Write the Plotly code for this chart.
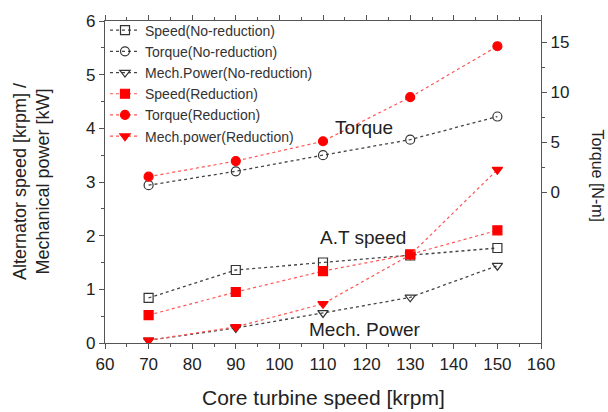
import plotly.graph_objects as go

x = [70, 90, 110, 130, 150]
speed_nored = [0.84, 1.36, 1.50, 1.63, 1.77]
torque_nored = [0.70, 2.09, 3.70, 5.25, 7.56]
power_nored = [0.05, 0.28, 0.56, 0.85, 1.44]
speed_red = [0.52, 0.95, 1.34, 1.65, 2.10]
torque_red = [1.55, 3.11, 5.09, 9.49, 14.58]
power_red = [0.05, 0.30, 0.73, 1.64, 3.23]

FONT = "Arial, Liberation Sans, sans-serif"
BLK = "#333333"
RED = "#ff0000"
TXT = "#222222"

fig = go.Figure()

def add(name, y, color, symbol, yaxis, lw, dash, lcolor):
    fig.add_trace(go.Scatter(
        x=x, y=y, name=name, yaxis=yaxis, mode="lines+markers",
        line=dict(color=lcolor, width=lw, dash=dash),
        marker=dict(symbol=symbol, size=9, color=color,
                    line=dict(color=color, width=1.2)),
    ))

add("Speed(No-reduction)", speed_nored, BLK, "square-open", "y", 1.3, "dot", "#444444")
add("Torque(No-reduction)", torque_nored, BLK, "circle-open", "y2", 1.3, "dot", "#444444")
add("Mech.Power(No-reduction)", power_nored, BLK, "triangle-down-open", "y", 1.3, "dot", "#444444")
add("Speed(Reduction)", speed_red, RED, "square", "y", 1.2, "dot", "#ff5555")
add("Torque(Reduction)", torque_red, RED, "circle", "y2", 1.2, "dot", "#ff5555")
add("Mech.power(Reduction)", power_red, RED, "triangle-down", "y", 1.2, "dot", "#ff5555")

AX = "#555555"
fig.update_layout(
    width=608, height=412,
    margin=dict(l=105, r=67, t=21, b=69),
    paper_bgcolor="white", plot_bgcolor="white",
    font=dict(family=FONT, size=17, color=TXT),
    showlegend=True,
    legend=dict(x=0.0, y=1.02, xanchor="left", yanchor="top",
                bgcolor="rgba(0,0,0,0)", borderwidth=0,
                font=dict(size=14, color="#333333"),
                tracegroupgap=0, itemwidth=30),
    xaxis=dict(range=[60, 160], tickvals=list(range(60, 161, 10)),
               showgrid=False, zeroline=False, showline=True,
               linecolor=AX, linewidth=1.2, mirror="ticks",
               ticks="outside", ticklen=5, tickcolor=AX,
               minor=dict(dtick=5, ticks="outside", ticklen=3, tickcolor=AX)),
    yaxis=dict(range=[0, 6], tickvals=[0, 1, 2, 3, 4, 5, 6],
               showgrid=False, zeroline=False, showline=True,
               linecolor=AX, linewidth=1.2,
               ticks="outside", ticklen=5, tickcolor=AX,
               minor=dict(dtick=0.5, ticks="outside", ticklen=3, tickcolor=AX)),
    yaxis2=dict(range=[-15.06, 17.1], overlaying="y", side="right",
                tickvals=[0, 5, 10, 15],
                showgrid=False, zeroline=False, showline=True,
                linecolor=AX, linewidth=1.2,
                ticks="outside", ticklen=5, tickcolor=AX,
                minor=dict(tickvals=[2.5, 7.5, 12.5], ticks="outside", ticklen=3,
                           tickcolor=AX)),
)

# in-plot labels
fig.add_annotation(text="Torque", x=112.3, y=4.02, xref="x", yref="y",
                   showarrow=False, xanchor="left", font=dict(size=19, color=TXT))
fig.add_annotation(text="A.T speed", x=108.9, y=1.96, xref="x", yref="y",
                   showarrow=False, xanchor="left", font=dict(size=19, color=TXT))
fig.add_annotation(text="Mech. Power", x=106.3, y=0.26, xref="x", yref="y",
                   showarrow=False, xanchor="left", font=dict(size=19, color=TXT))

# axis titles
fig.add_annotation(text="Core turbine speed [krpm]", x=0.5, y=0, xref="paper", yref="paper",
                   showarrow=False, xanchor="center", yanchor="middle", yshift=-54,
                   font=dict(size=21, color=TXT))
fig.add_annotation(text="Alternator speed [krpm] /<br>Mechanical power [kW]",
                   x=0, y=0.5, xref="paper", yref="paper", showarrow=False,
                   xanchor="center", yanchor="middle", xshift=-74, textangle=-90,
                   font=dict(size=18, color=TXT))
fig.add_annotation(text="Torque [N-m]", x=1.0, y=0.52, xref="paper", yref="paper",
                   showarrow=False, xanchor="center", yanchor="middle", xshift=56,
                   textangle=90, font=dict(size=16, color=TXT))

fig.write_html("out.html")
